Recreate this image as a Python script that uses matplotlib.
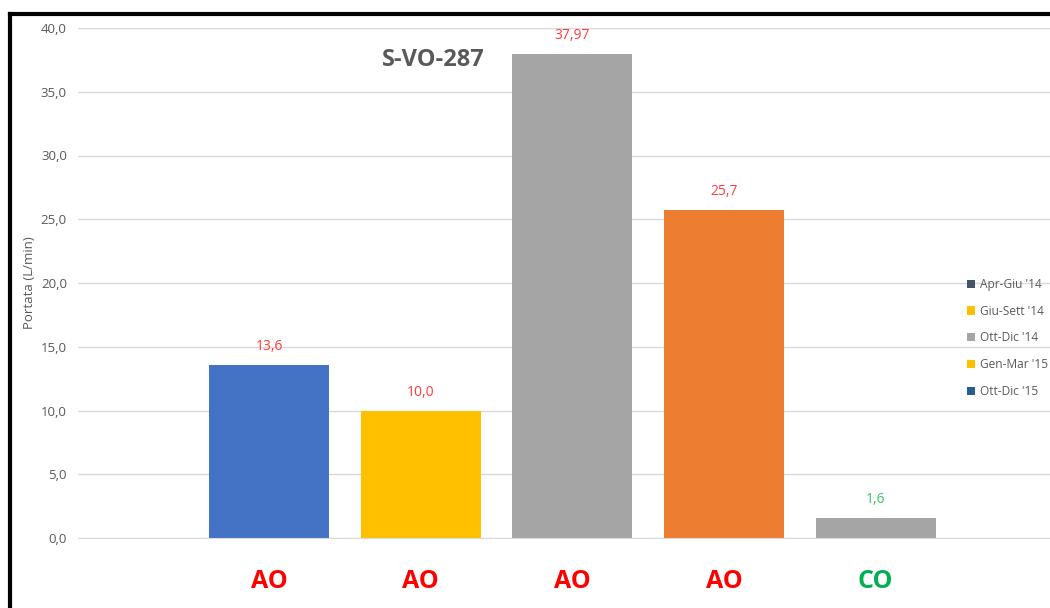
import matplotlib.pyplot as plt
from matplotlib.lines import Line2D
from matplotlib.patches import Patch

plt.rcParams['font.family'] = ['Open Sans', 'DejaVu Sans']

# Data
categories = ['AO', 'AO', 'AO', 'AO', 'CO']
cat_colors = ['#FF0000', '#FF0000', '#FF0000', '#FF0000', '#00B050']
values = [13.6, 10.0, 37.97, 25.7, 1.6]
value_labels = ['13,6', '10,0', '37,97', '25,7', '1,6']
value_colors = ['#FF3B3B', '#FF3B3B', '#FF3B3B', '#FF3B3B', '#3CC46A']
bar_colors = ['#4472C4', '#FFC000', '#A5A5A5', '#ED7D31', '#A5A5A5']
legend_labels = ["Apr-Giu '14", "Giu-Sett '14", "Ott-Dic '14", "Gen-Mar '15", "Ott-Dic '15"]
legend_colors = ['#44546A', '#FFC000', '#A5A5A5', '#FFC000', '#255E91']
yticks = [0, 5, 10, 15, 20, 25, 30, 35, 40]

fig = plt.figure(figsize=(10.5, 6.08), dpi=100)
ax = fig.add_axes([78 / 1050, 1 - 538 / 608, 1 - 78 / 1050, (538 - 28) / 608])

x = range(len(values))
ax.bar(x, values, width=0.79, color=bar_colors, zorder=2)
for i, (v, lab, c) in enumerate(zip(values, value_labels, value_colors)):
    ax.text(i, v + 1.45, lab, ha='center', va='center', color=c, fontsize=10)

ax.set_xlim(-1.26, 5.15)
ax.set_ylim(0, 40)
ax.set_yticks(yticks)
ax.set_yticklabels([f'{t:.1f}'.replace('.', ',') for t in yticks], color='#595959', fontsize=9.5)
ax.yaxis.grid(True, color='#D9D9D9', linewidth=1, zorder=0)
ax.set_axisbelow(True)
for s in ['top', 'right', 'left']:
    ax.spines[s].set_visible(False)
ax.spines['bottom'].set_color('#D9D9D9')
ax.tick_params(axis='both', length=0)
ax.tick_params(axis='y', pad=8)

ax.set_xticks(list(x))
ax.set_xticklabels(categories, fontsize=18, fontweight='bold')
for t, c in zip(ax.get_xticklabels(), cat_colors):
    t.set_color(c)
ax.tick_params(axis='x', pad=22)

ax.set_ylabel('Portata (L/min)', color='#595959', fontsize=9.5)
ax.yaxis.set_label_coords(-42 / 972, 0.5)

fig.text(433 / 1050, 1 - 60 / 608, 'S-VO-287', ha='center', va='center',
         fontsize=17, fontweight='bold', color='#595959')

handles = [Patch(facecolor=c, edgecolor='none') for c in legend_colors]
ax.legend(handles, legend_labels, loc='upper left', bbox_to_anchor=(961 / 1050, 1 - 272 / 608),
          bbox_transform=fig.transFigure, frameon=False, fontsize=8.6, labelcolor='#595959',
          handlelength=0.7, handleheight=0.7, handletextpad=0.4, labelspacing=1.15, borderpad=0)

# black frame (top and left)
fig.add_artist(Line2D([10 / 1050, 10 / 1050], [0, 1 - 14 / 608], color='black', linewidth=3,
                      transform=fig.transFigure, solid_capstyle='projecting'))
fig.add_artist(Line2D([10 / 1050, 1], [1 - 14 / 608, 1 - 14 / 608], color='black', linewidth=3,
                      transform=fig.transFigure, solid_capstyle='projecting'))

plt.savefig('out.png', dpi=100)
